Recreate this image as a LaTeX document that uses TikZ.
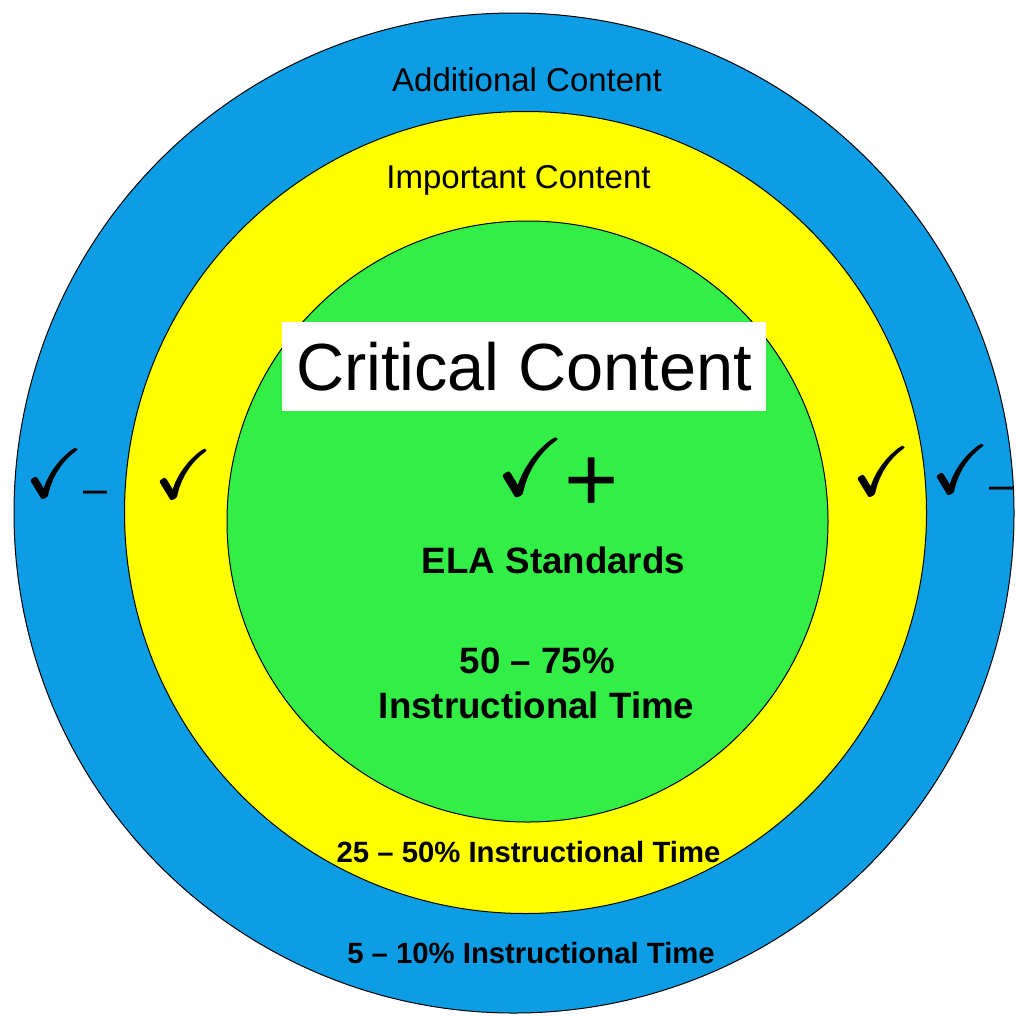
\documentclass[tikz,border=0pt]{standalone}
\usepackage{amsmath,amssymb}
\usepackage[no-math]{fontspec}
\setmainfont{Liberation Sans}
\definecolor{ringblue}{RGB}{12,157,228}
\definecolor{ringyellow}{RGB}{255,255,0}
\definecolor{ringgreen}{RGB}{51,238,70}
\newcommand{\tickmark}{$\pmb{\checkmark}$}
\newcommand{\tickminus}{{\fontsize{43}{43}\selectfont\raisebox{-6pt}{–}}}

\begin{document}
\begin{tikzpicture}[x=1pt,y=-1pt,
    ring/.style={circle,draw,line width=1pt,inner sep=0pt},
    band label/.style={font=\fontsize{33}{40}\selectfont,anchor=base,inner sep=0pt},
    time label/.style={font=\bfseries\fontsize{29.3}{35}\selectfont,anchor=base,inner sep=0pt},
    core label/.style={font=\bfseries\fontsize{36.7}{44}\selectfont,anchor=base,inner sep=0pt},
    tick/.style={font=\fontsize{69}{69}\selectfont,anchor=base west,inner sep=0pt}]

\useasboundingbox (0,0) rectangle (1016,1015);

% rings
\node[ring, fill=ringblue, minimum size=1000pt] (outer) at (514,513) {};
\node[ring, fill=ringyellow, minimum size=802pt] (middle) at (525.5,512.5) {};
\node[ring, fill=ringgreen, minimum size=601pt] (inner) at (527.5,521.5) {};

% band labels
\node[band label] (additional) at (527,91) {Additional Content};
\node[band label] (important) at (518.5,188) {Important Content};
\node[time label] (time25) at (528.5,862) {25 -- 50\% Instructional Time};
\node[time label] (time5) at (531,963) {5 -- 10\% Instructional Time};

% core
\node[fill=white, minimum width=484pt, minimum height=89pt, inner sep=0pt,
    font=\fontsize{66.7}{70}\selectfont] (critical) at (524,366.5) {Critical Content};
\node[tick, font=\fontsize{81}{81}\selectfont] (plus) at (497,495)
    {\tickmark{\fontsize{93}{93}\selectfont\raisebox{-16pt}{+}}};
\node[core label] (ela) at (553.5,573) {ELA Standards};
\node[core label] (time50) at (537.5,673) {50 -- 75\%};
\node[core label] (instr) at (536.5,718) {Instructional Time};

% ticks
\node[tick] (blueleft) at (26,497) {\tickmark\tickminus};
\node[tick] (yellowleft) at (155,498) {\tickmark};
\node[tick] (yellowright) at (853,495) {\tickmark};
\node[tick] (blueright) at (932,493) {\tickmark\tickminus};

\end{tikzpicture}
\end{document}
